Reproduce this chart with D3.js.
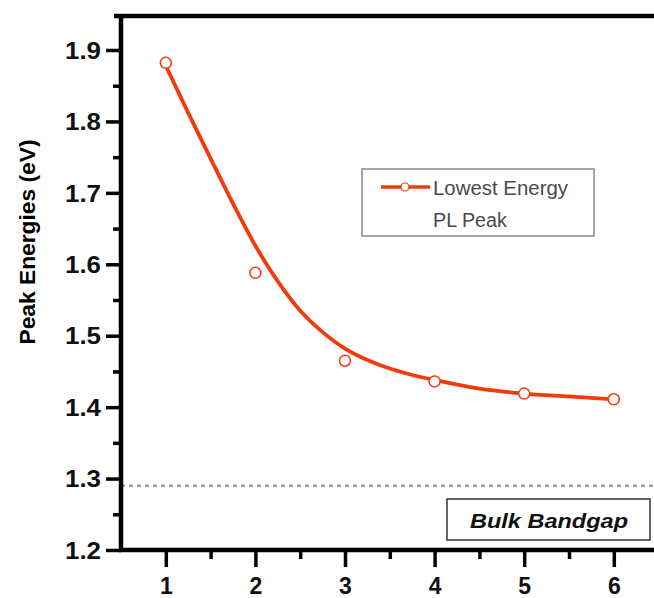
<!DOCTYPE html>
<html>
<head>
<meta charset="utf-8">
<script src="https://cdn.jsdelivr.net/npm/d3@7"></script>
<style>
  body { margin: 0; background: #fff; }
  svg { display: block; }
  .axis text { font-family: "Liberation Sans", Arial, sans-serif; font-weight: bold; fill: #111; }
</style>
</head>
<body>
<div id="chart"></div>
<script>
// measured points (lowest energy PL peak)
var sizes = [1, 2, 3, 4, 5, 6];
var peaks = [1.882, 1.588, 1.465, 1.436, 1.419, 1.411];

// fitted curve
var fitX = [1, 1.25, 1.5, 1.75, 2, 2.25, 2.5, 2.75, 3, 3.25, 3.5, 3.75, 4, 4.5, 5, 5.5, 6];
var fitY = [1.878, 1.812, 1.748, 1.685, 1.626, 1.576, 1.535, 1.505, 1.482, 1.466, 1.454, 1.445, 1.438, 1.426, 1.419, 1.415, 1.411];

var bulkGap = 1.29;

var xTicks = [1, 2, 3, 4, 5, 6];
var xMinor = [1.5, 2.5, 3.5, 4.5, 5.5];
var yTicks = [1.2, 1.3, 1.4, 1.5, 1.6, 1.7, 1.8, 1.9];
var yMinor = [1.25, 1.35, 1.45, 1.55, 1.65, 1.75, 1.85];

var width = 654;
var height = 598;
var red = '#f23a0c';

var svg = d3.select('#chart').append('svg')
  .attr('width', width)
  .attr('height', height);

// スケール
var x = d3.scaleLinear().domain([0.5, 6.5]).range([121, 658.6]);
var y = d3.scaleLinear().domain([1.2, 1.9]).range([550, 50]);

// bulk bandgap dotted line
svg.append('line')
  .attr('x1', x(0.5)).attr('x2', width)
  .attr('y1', y(bulkGap)).attr('y2', y(bulkGap))
  .attr('stroke', '#8c8c8c')
  .attr('stroke-width', 2)
  .attr('stroke-dasharray', '4,4');

// fitted curve
var line = d3.line()
  .x(function(d, i) { return x(fitX[i]); })
  .y(function(d) { return y(d); })
  .curve(d3.curveCatmullRom.alpha(0.5));

svg.append('path')
  .datum(fitY)
  .attr('d', line)
  .attr('fill', 'none')
  .attr('stroke', red)
  .attr('stroke-width', 3.8);

svg.selectAll('.pt')
  .data(peaks)
  .enter()
  .append('circle')
  .classed('pt', true)
  .attr('cx', function(d, i) { return x(sizes[i]); })
  .attr('cy', function(d) { return y(d); })
  .attr('r', 5.5)
  .attr('fill', '#fff')
  .attr('stroke', red)
  .attr('stroke-width', 1.5);

// top frame line
svg.append('line')
  .attr('x1', 114).attr('x2', width)
  .attr('y1', 16).attr('y2', 16)
  .attr('stroke', '#000')
  .attr('stroke-width', 4.5);

// y axis
var yMinorAxis = d3.axisLeft(y).tickValues(yMinor).tickSize(8).tickFormat('');
svg.append('g')
  .attr('transform', 'translate(' + x(0.5) + ',0)')
  .call(yMinorAxis)
  .call(function(g) { g.select('.domain').remove(); })
  .selectAll('line').attr('stroke-width', 3.5);

var yAxis = d3.axisLeft(y).tickValues(yTicks).tickSize(15).tickPadding(5)
  .tickFormat(d3.format('.1f'));
var gy = svg.append('g')
  .classed('axis', true)
  .attr('transform', 'translate(' + x(0.5) + ',0)')
  .call(yAxis);
gy.select('.domain').attr('d', 'M0,16V' + y(1.2)).attr('stroke-width', 4.5);
gy.selectAll('.tick line').attr('stroke-width', 3.5);
gy.selectAll('text')
  .style('font-size', '23px')
  .attr('dy', '0.36em')
  .attr('textLength', 36)
  .attr('lengthAdjust', 'spacingAndGlyphs');

// x axis
var xMinorAxis = d3.axisBottom(x).tickValues(xMinor).tickSize(9).tickFormat('');
svg.append('g')
  .attr('transform', 'translate(0,' + y(1.2) + ')')
  .call(xMinorAxis)
  .call(function(g) { g.select('.domain').remove(); })
  .selectAll('line').attr('stroke-width', 3.5);

var xAxis = d3.axisBottom(x).tickValues(xTicks).tickSize(17).tickPadding(11)
  .tickFormat(d3.format('d'));
var gx = svg.append('g')
  .classed('axis', true)
  .attr('transform', 'translate(0,' + y(1.2) + ')')
  .call(xAxis);
gx.select('.domain').attr('d', 'M' + (x(0.5) - 2) + ',0H' + width).attr('stroke-width', 4.5);
gx.selectAll('.tick line').attr('stroke-width', 3.5);
gx.selectAll('text').style('font-size', '23px');

// y label
svg.append('text')
  .attr('transform', 'translate(35,242) rotate(-90)')
  .attr('text-anchor', 'middle')
  .attr('textLength', 205)
  .attr('lengthAdjust', 'spacingAndGlyphs')
  .style('font-family', '"Liberation Sans", Arial, sans-serif')
  .style('font-weight', 'bold')
  .style('font-size', '22px')
  .text('Peak Energies (eV)');

// legend
var legend = svg.append('g');
legend.append('rect')
  .attr('x', 362).attr('y', 169)
  .attr('width', 232).attr('height', 67)
  .attr('fill', '#fff')
  .attr('stroke', '#888')
  .attr('stroke-width', 1.5);
legend.append('line')
  .attr('x1', 381).attr('x2', 430)
  .attr('y1', 187).attr('y2', 187)
  .attr('stroke', red)
  .attr('stroke-width', 3.5);
legend.append('circle')
  .attr('cx', 405).attr('cy', 187).attr('r', 4)
  .attr('fill', '#fff')
  .attr('stroke', red)
  .attr('stroke-width', 1.2);
legend.append('text')
  .attr('x', 433).attr('y', 195)
  .attr('textLength', 135)
  .attr('lengthAdjust', 'spacingAndGlyphs')
  .style('font-family', '"Liberation Sans", Arial, sans-serif')
  .style('font-size', '20px')
  .style('fill', '#4a4a4a')
  .text('Lowest Energy');
legend.append('text')
  .attr('x', 433).attr('y', 227)
  .attr('textLength', 74)
  .attr('lengthAdjust', 'spacingAndGlyphs')
  .style('font-family', '"Liberation Sans", Arial, sans-serif')
  .style('font-size', '20px')
  .style('fill', '#4a4a4a')
  .text('PL Peak');

// bulk bandgap label
svg.append('rect')
  .attr('x', 447).attr('y', 499)
  .attr('width', 203).attr('height', 41)
  .attr('fill', '#fff')
  .attr('stroke', '#333')
  .attr('stroke-width', 1.5);
svg.append('text')
  .attr('x', 470).attr('y', 528)
  .attr('textLength', 158)
  .attr('lengthAdjust', 'spacingAndGlyphs')
  .style('font-family', '"Liberation Sans", Arial, sans-serif')
  .style('font-weight', 'bold')
  .style('font-style', 'italic')
  .style('font-size', '21px')
  .style('fill', '#111')
  .text('Bulk Bandgap');
</script>
</body>
</html>
